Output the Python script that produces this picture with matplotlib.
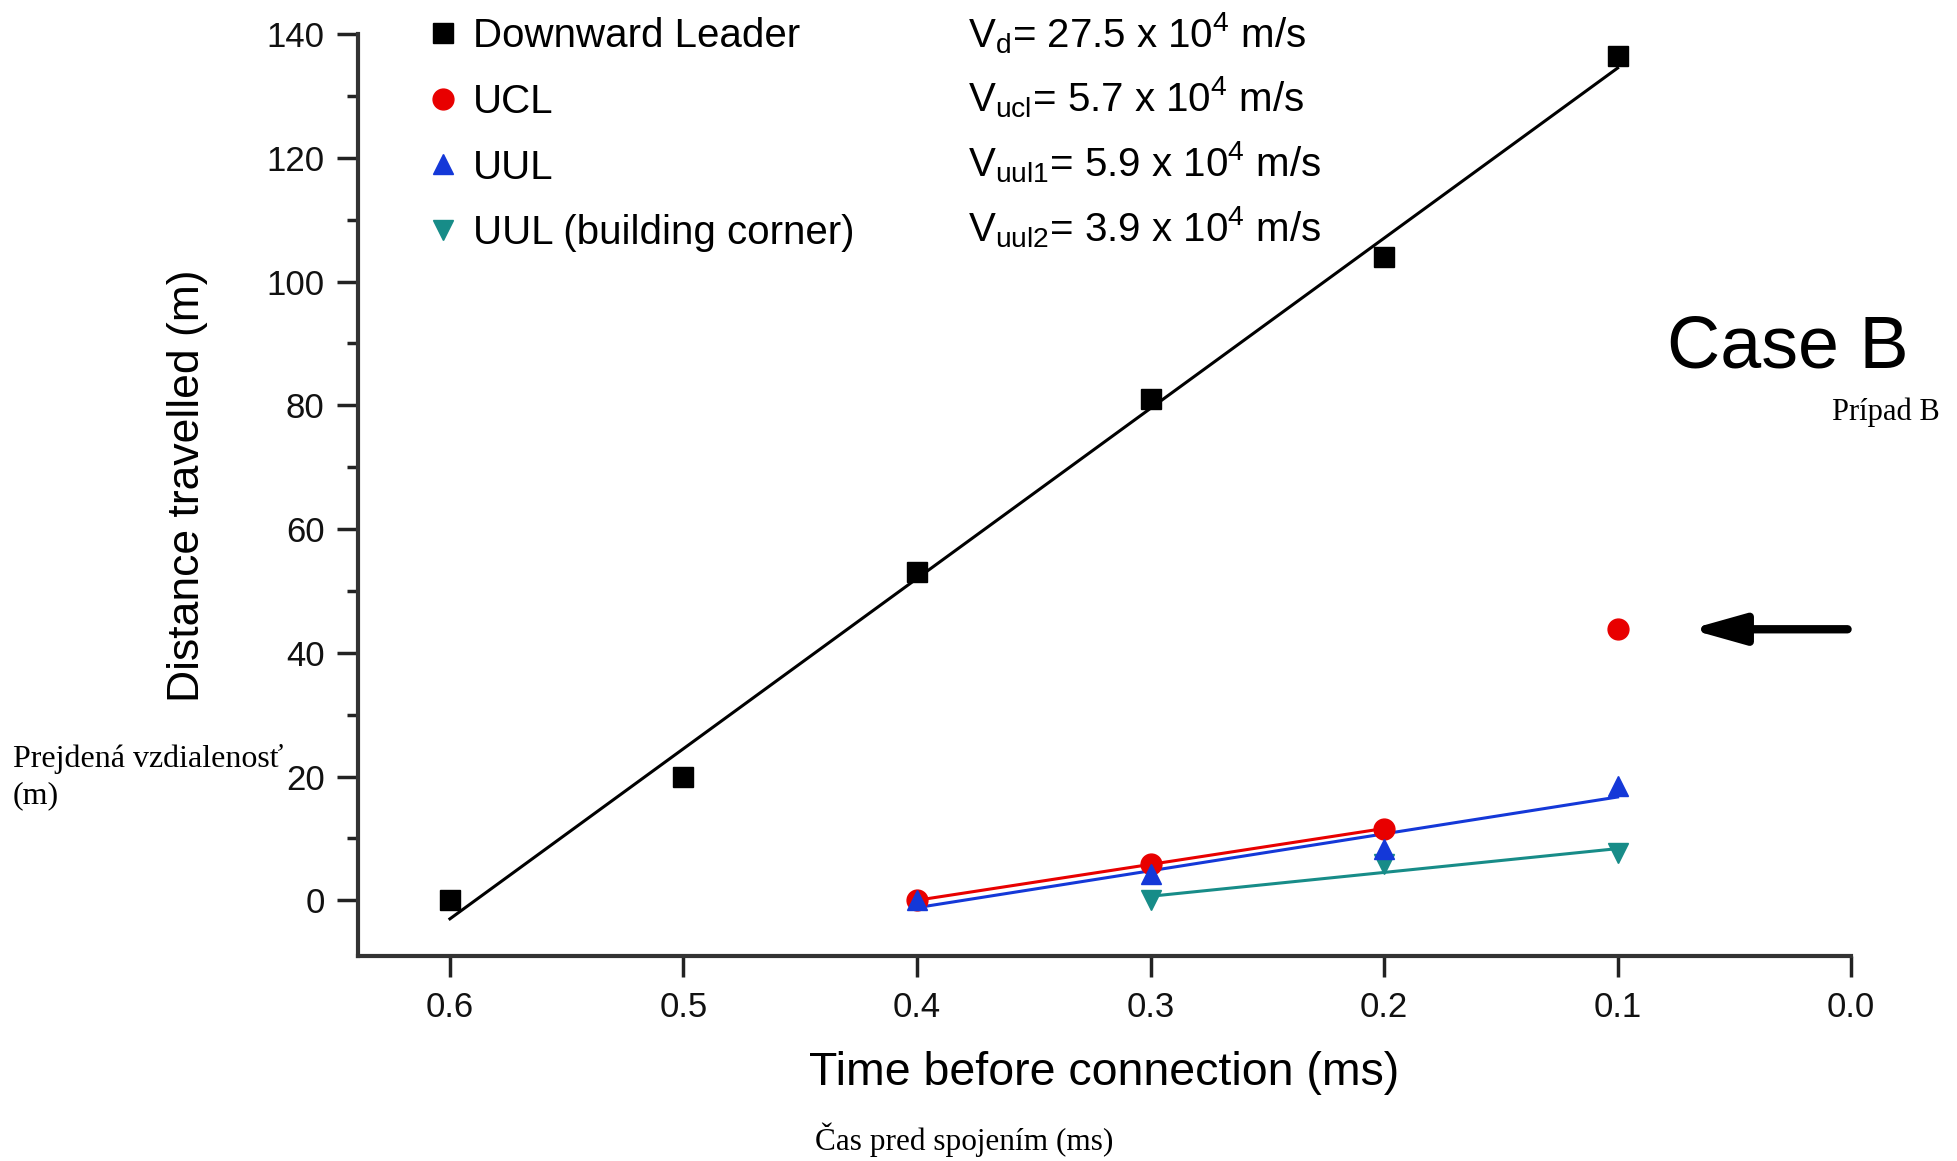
import numpy as np
import matplotlib
matplotlib.use("Agg")
import matplotlib.pyplot as plt
from matplotlib.ticker import MultipleLocator

plt.rcParams['font.family'] = ['Liberation Sans', 'DejaVu Sans']
plt.rcParams['mathtext.fontset'] = 'custom'
plt.rcParams['mathtext.rm'] = 'Liberation Sans'
plt.rcParams['mathtext.it'] = 'Liberation Sans:italic'

# data (time before connection in ms, distance in m)
t_dl = [0.6, 0.5, 0.4, 0.3, 0.2, 0.1]
d_dl = [0, 20, 53, 81, 104, 136.5]

t_ucl = [0.4, 0.3, 0.2, 0.1]
d_ucl = [0, 5.8, 11.6, 43.8]

t_uul = [0.4, 0.3, 0.2, 0.1]
d_uul = [0, 4.2, 8.3, 18.5]

t_uul2 = [0.3, 0.2, 0.1]
d_uul2 = [0, 5.8, 7.7]

labels = ["Downward Leader", "UCL", "UUL", "UUL (building corner)"]
speeds = [r"V$_\mathrm{d}$= 27.5 x 10$^\mathrm{4}$ m/s",
          r"V$_\mathrm{ucl}$= 5.7 x 10$^\mathrm{4}$ m/s",
          r"V$_\mathrm{uul1}$= 5.9 x 10$^\mathrm{4}$ m/s",
          r"V$_\mathrm{uul2}$= 3.9 x 10$^\mathrm{4}$ m/s"]

c_black = 'black'
c_red = '#e80000'
c_blue = '#1438d8'
c_teal = '#178c88'

fig = plt.figure(figsize=(19.58, 11.61), dpi=100)
ax = fig.add_axes([0.1828, 0.1766, 0.7626, 0.7941])

def fit_line(t, d, color):
    p = np.polyfit(t, d, 1)
    xs = np.array([min(t), max(t)])
    ax.plot(xs, np.polyval(p, xs), color=color, lw=2.2, zorder=2)

fit_line(t_dl, d_dl, c_black)
fit_line(t_ucl[:3], d_ucl[:3], c_red)
fit_line(t_uul, d_uul, c_blue)
fit_line(t_uul2, d_uul2, c_teal)

ms = 15
h1, = ax.plot(t_dl, d_dl, 's', color=c_black, ms=ms, label=labels[0], zorder=3)
h2, = ax.plot(t_ucl, d_ucl, 'o', color=c_red, ms=ms, label=labels[1], zorder=3)
h3, = ax.plot(t_uul, d_uul, '^', color=c_blue, ms=ms, label=labels[2], zorder=4)
h4, = ax.plot(t_uul2, d_uul2, 'v', color=c_teal, ms=ms, label=labels[3], zorder=3)

ax.set_xlim(0.6394, 0.0)
ax.set_ylim(-9, 140)
ax.xaxis.set_major_locator(MultipleLocator(0.1))
ax.yaxis.set_major_locator(MultipleLocator(20))
ax.yaxis.set_minor_locator(MultipleLocator(10))
ax.xaxis.set_major_formatter(plt.FuncFormatter(lambda v, p: "%.1f" % abs(v)))

for s in ['top', 'right']:
    ax.spines[s].set_visible(False)
for s in ['left', 'bottom']:
    ax.spines[s].set_linewidth(3)
    ax.spines[s].set_color('#333333')

ax.tick_params(which='major', direction='out', length=15, width=2.5, labelsize=25,
               color='#222222', labelcolor='#111111')
ax.tick_params(axis='y', which='major', pad=9)
ax.tick_params(axis='x', which='major', pad=10)
ax.tick_params(which='minor', direction='out', length=8, width=2.5, color='#222222')

ax.set_xlabel("Time before connection (ms)", fontsize=33.5, labelpad=20)
ax.set_ylabel("Distance travelled (m)", fontsize=32)
ax.yaxis.set_label_coords(-0.1005, 0.51)

leg = ax.legend(handles=[h1, h2, h3, h4], loc='upper left',
                bbox_to_anchor=(427 / 1958, 1 - 17 / 1161), bbox_transform=fig.transFigure,
                frameon=False, fontsize=29, handlelength=0.8, handletextpad=0.35,
                labelspacing=0.69, borderpad=0, borderaxespad=0, numpoints=1)

row_y = [33, 97, 162, 227]
for y, s in zip(row_y, speeds):
    fig.text(968 / 1958, 1 - y / 1161, s, fontsize=29, va='center', ha='left')

# annotations
fig.text(1788 / 1958, 1 - 367 / 1161, "Case B", fontsize=53, ha='center', va='baseline')
fig.text(1940 / 1958, 1 - 412 / 1161, "Prípad B", fontsize=22, ha='right', va='center',
         family=['Liberation Serif', 'DejaVu Serif'])
fig.text(13 / 1958, 1 - 777 / 1161, "Prejdená vzdialenosť\n(m)", fontsize=23, ha='left',
         va='center', linespacing=1.3, family=['Liberation Serif', 'DejaVu Serif'])
fig.text(964 / 1958, 1 - 1140 / 1161, "Čas pred spojením (ms)", fontsize=22.5, ha='center',
         va='center', family=['Liberation Serif', 'DejaVu Serif'])

ax.annotate("", xy=(0.069, d_ucl[3]), xytext=(0.0015, d_ucl[3]),
            arrowprops=dict(arrowstyle='-|>,head_length=3.2,head_width=0.9', color='black',
                            lw=6, shrinkA=0, shrinkB=0),
            annotation_clip=False)

fig.savefig("out.png", dpi=100)
